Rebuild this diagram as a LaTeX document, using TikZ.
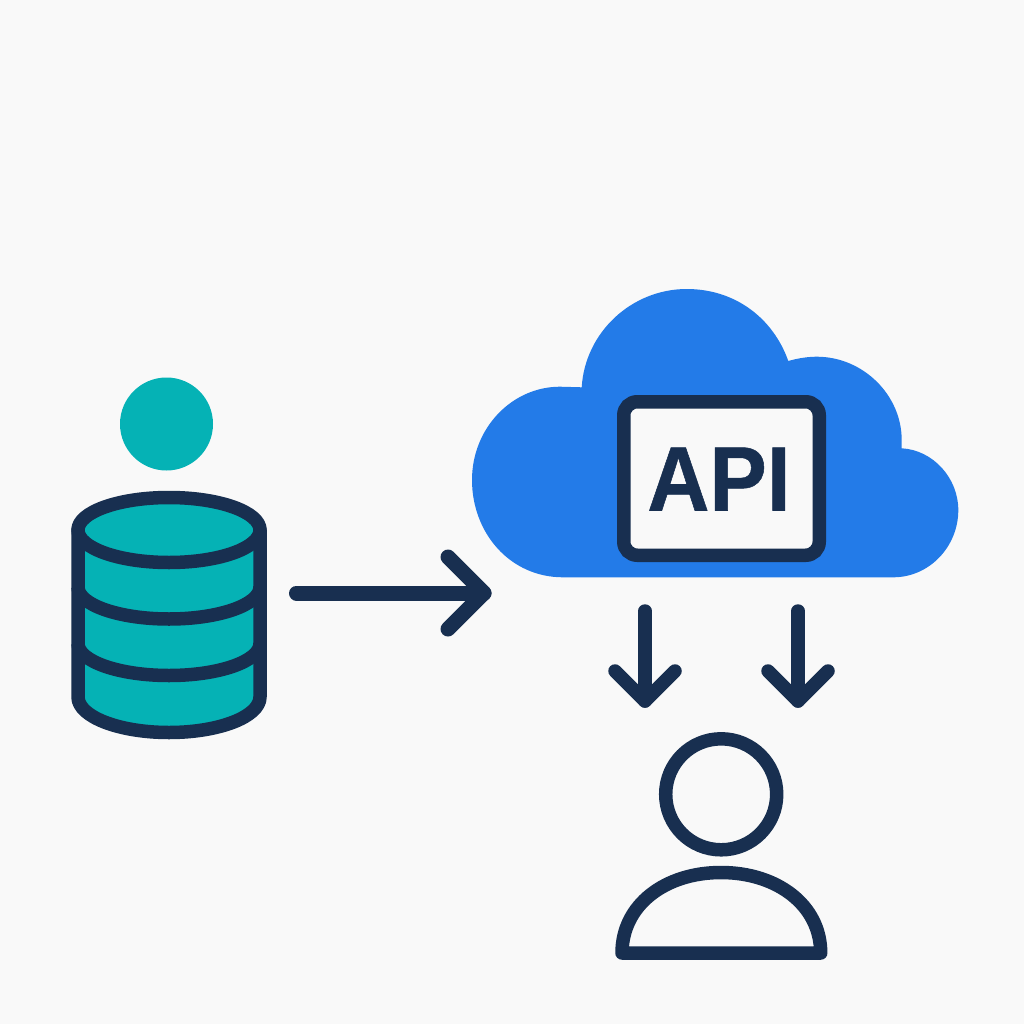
\documentclass[tikz,border=0pt]{standalone}
\usepackage{fontspec}
\setmainfont{Liberation Sans}
\newfontface\apifont[FakeBold=0.6]{Liberation Sans Bold}
\definecolor{bgc}{HTML}{F9F9F9}
\definecolor{navy}{HTML}{182F50}
\definecolor{teal}{HTML}{05B2B5}
\definecolor{cloudb}{HTML}{237BE8}
\begin{document}
\begin{tikzpicture}[x=1pt,y=-1pt,
 thin/.style={draw=navy,line width=13.5pt,line cap=round,line join=round},
 thick/.style={draw=navy,line width=15pt,line cap=round,line join=round}]
\path[use as bounding box,fill=bgc] (0,0) rectangle (1024,1024);
\fill[teal] (166.5,424) circle (46.5);
% database
\path[fill=teal] (78,530) -- (78,697) arc[start angle=180,end angle=0,x radius=91,y radius=35.5] -- (260,530) -- cycle;
\draw[thin] (78,530) -- (78,697) arc[start angle=180,end angle=0,x radius=91,y radius=35.5] -- (260,530);
\draw[thin,line cap=butt] (78,587) arc[start angle=180,end angle=0,x radius=91,y radius=32];
\draw[thin,line cap=butt] (78,643.5) arc[start angle=180,end angle=0,x radius=91,y radius=32];
\draw[thin,fill=teal] (169,530) ellipse[x radius=91,y radius=32.5];
% arrow
\coordinate (a1) at (296.5,593); \coordinate (a2) at (484,593);
\coordinate (a3) at (448,557); \coordinate (a4) at (448,629);
\draw[thick] (a1) -- (a2);
\draw[thick] (a3) -- (a2) -- (a4);
% cloud
\path[fill=cloudb] (563,577.3) .. controls (510,577.3) and (472,533) .. (472,480)
 .. controls (472,428) and (512,386.7) .. (560,386.7)
 -- (581.7,387.3)
 .. controls (585,332) and (632,289) .. (686.7,289)
 .. controls (735,289) and (773,318) .. (788.3,361)
 .. controls (797,358.5) and (807,356.7) .. (816.7,356.7)
 .. controls (863,356.7) and (901.7,395) .. (901.7,440)
 -- (901.7,448.3)
 .. controls (933,450) and (958.3,478) .. (958.3,510)
 .. controls (958.3,547) and (929,577.3) .. (893.3,577.3) -- cycle;
% API box
\node[draw=navy,line width=13.5pt,fill=bgc,rounded corners=13.5pt,minimum width=195.5pt,minimum height=153.5pt,inner sep=0pt,outer sep=0pt] (api) at (721.5,478.5) {};
\node[text=navy,font=\apifont\fontsize{91.5}{91.5}\selectfont,inner sep=0pt,xscale=0.94,transform shape] (apit) at (719,479) {API};
% down arrows
\coordinate (b1) at (645,611); \coordinate (b2) at (645,701);
\coordinate (b3) at (615,671); \coordinate (b4) at (675,671);
\coordinate (c1) at (798,611); \coordinate (c2) at (798,701);
\coordinate (c3) at (768,671); \coordinate (c4) at (828,671);
\draw[thin] (b1) -- (b2);
\draw[thin] (b3) -- (b2) -- (b4);
\draw[thin] (c1) -- (c2);
\draw[thin] (c3) -- (c2) -- (c4);
% person
\draw[thin] (721.2,794.3) circle (55.5);
\draw[thin] (622,953) .. controls (622,905) and (665,872.5) .. (721,872.5) .. controls (777,872.5) and (820.7,905) .. (820.7,953) -- cycle;
\end{tikzpicture}
\end{document}
